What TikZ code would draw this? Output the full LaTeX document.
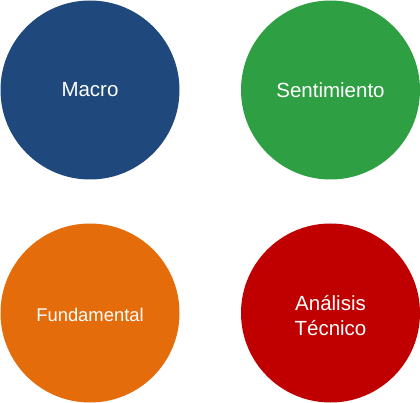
\documentclass[tikz,border=0pt]{standalone}
\usepackage{fontspec}
\setmainfont{Liberation Sans}
\definecolor{cblue}{HTML}{1F497D}
\definecolor{cgreen}{HTML}{2EA043}
\definecolor{corange}{HTML}{E46C0A}
\definecolor{cred}{HTML}{C00000}
\begin{document}
\begin{tikzpicture}[x=1pt,y=-1pt,
  bubble/.style={circle,minimum size=179pt,inner sep=0pt,draw=none,text=white,
    font=\fontsize{20.5}{25}\selectfont,align=center}]
\useasboundingbox (0,0) rectangle (420,403);
\node[bubble,fill=cblue] (macro) at (90,90) {Macro};
\node[bubble,fill=cgreen] (sent) at (330.5,90) {Sentimiento};
\node[bubble,fill=corange] (fund) at (90,313) {};
\node[text=white,font=\fontsize{18.4}{22}\selectfont] (fundt) at (90,315) {Fundamental};
\node[bubble,fill=cred] (tec) at (330.5,313) {};
\node[text=white,font=\fontsize{20.5}{25}\selectfont,align=center] (tect) at (330.5,315.5) {Análisis\\Técnico};
\end{tikzpicture}
\end{document}
